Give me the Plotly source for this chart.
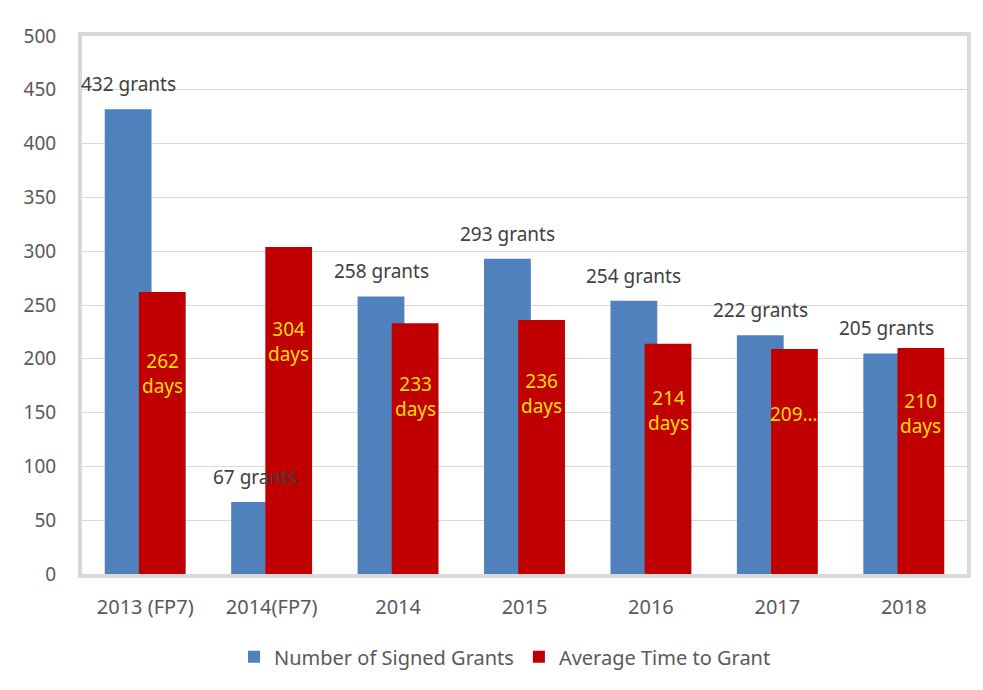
import plotly.graph_objects as go

categories = ["2013 (FP7)", "2014(FP7)", "2014", "2015", "2016", "2017", "2018"]
signed_grants = [432, 67, 258, 293, 254, 222, 205]
time_to_grant = [262, 304, 233, 236, 214, 209, 210]
grant_labels = [f"{v} grants" for v in signed_grants]
day_labels = ["262<br>days", "304<br>days", "233<br>days", "236<br>days",
              "214<br>days", "209…", "210<br>days"]

y_ticks = [0, 50, 100, 150, 200, 250, 300, 350, 400, 450, 500]

BLUE = "#4F81BD"
RED = "#C00000"
GOLD = "#FFDD00"
FONT = "Noto Sans, Open Sans, sans-serif"

x_pos = list(range(len(categories)))
bar_w = 0.37

fig = go.Figure()

fig.add_trace(go.Bar(
    x=x_pos, y=signed_grants, name="Number of Signed Grants",
    marker=dict(color=BLUE, line=dict(width=0)),
    width=bar_w, offset=-0.32,
))
fig.add_trace(go.Bar(
    x=x_pos, y=time_to_grant, name="Average Time to Grant",
    marker=dict(color=RED, line=dict(width=0)),
    width=bar_w, offset=-0.05,
))

# grant counts above the blue bars
for i, (v, lab) in enumerate(zip(signed_grants, grant_labels)):
    fig.add_annotation(
        x=i - 0.32 + bar_w / 2, y=v, text=lab, showarrow=False,
        yshift=25, font=dict(family=FONT, size=19, color="#404040"),
    )

# days inside the red bars
for i, (v, lab) in enumerate(zip(time_to_grant, day_labels)):
    fig.add_annotation(
        x=i - 0.05 + bar_w / 2, y=v * 0.71, text=lab, showarrow=False,
        font=dict(family=FONT, size=19, color=GOLD),
    )

# outer chart frame (top and left edges)
fig.add_shape(type="line", xref="paper", yref="paper",
              x0=-0.086, x1=1.03, y0=1.054, y1=1.054,
              line=dict(color="#d9d9d9", width=1))
fig.add_shape(type="line", xref="paper", yref="paper",
              x0=-0.086, x1=-0.086, y0=1.054, y1=-0.22,
              line=dict(color="#d9d9d9", width=1))

fig.update_layout(
    width=975, height=682,
    margin=dict(l=74, r=16, t=28, b=116),
    barmode="overlay",
    paper_bgcolor="white",
    plot_bgcolor="white",
    font=dict(family=FONT, size=19, color="#595959"),
    showlegend=True,
    legend=dict(
        orientation="h", xanchor="center", yanchor="middle",
        x=0.478, y=-0.154, font=dict(size=20, color="#595959"),
        itemwidth=30, traceorder="normal",
    ),
)

fig.update_xaxes(
    range=[-0.5, len(categories) - 0.5],
    tickvals=x_pos, ticktext=categories,
    showgrid=False, zeroline=False,
    showline=True, linewidth=4, linecolor="#d9d9d9", mirror=True,
    ticklabelstandoff=12, tickfont=dict(size=20, color="#595959"),
)
fig.update_yaxes(
    range=[0, 500], tickvals=y_ticks,
    showgrid=True, gridcolor="#d9d9d9", gridwidth=1, zeroline=False,
    showline=True, linewidth=4, linecolor="#d9d9d9", mirror=True,
    ticklabelstandoff=18, tickfont=dict(size=19, color="#595959"),
)

fig.write_html("out.html")
